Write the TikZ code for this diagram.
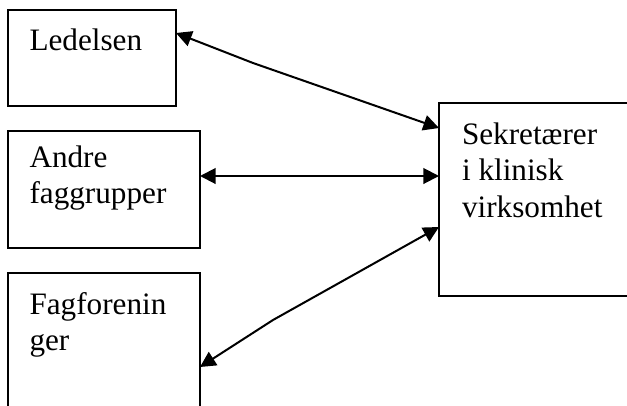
\documentclass[tikz,border=0pt]{standalone}
\usepackage{fontspec}
\setmainfont{Liberation Serif}
\usetikzlibrary{arrows.meta,calc}
\begin{document}
\begin{tikzpicture}[x=0.3846pt,y=-0.3846pt,
  box/.style={draw,line width=0.77pt,inner sep=0pt,outer sep=0pt},
  lbl/.style={anchor=north west,inner sep=0pt,align=left,font=\fontsize{12pt}{14pt}\selectfont},
  link/.style={line width=0.77pt,{Triangle[length=6pt,width=6pt]}-{Triangle[length=6pt,width=6pt]},line join=round}]
\useasboundingbox (0,0) rectangle (627,405);
\node[box,minimum width=168*0.3846pt,minimum height=96*0.3846pt] (l) at (92,58) {};
\node[box,minimum width=192*0.3846pt,minimum height=117*0.3846pt] (a) at (104,189.5) {};
\node[box,minimum width=192*0.3846pt,minimum height=147*0.3846pt] (f) at (104,346.5) {};
\node[box,minimum width=201*0.3846pt,minimum height=193*0.3846pt] (s) at (539.5,199.5) {};
\node[lbl] (lt) at (29,24.5) {\strut Ledelsen};
\node[lbl] (at) at (29,141.5) {\strut Andre\\faggrupper};
\node[lbl] (ft) at (29,288.5) {\strut Fagforenin\\ger};
\node[lbl] (st) at (461.5,118.5) {\strut Sekretærer\\i klinisk\\virksomhet};
\coordinate (b1) at (253,63);
\coordinate (b3) at (273,320);
\draw[link] ($(l.north east)+(0,23)$) -- (b1) -- ($(s.north west)+(0,25)$);
\draw[link] ($(a.north east)+(0,45)$) -- ($(s.north west)+(0,73)$);
\draw[link] ($(f.north east)+(0,94)$) -- (b3) -- ($(s.north west)+(0,124)$);
\end{tikzpicture}
\end{document}
